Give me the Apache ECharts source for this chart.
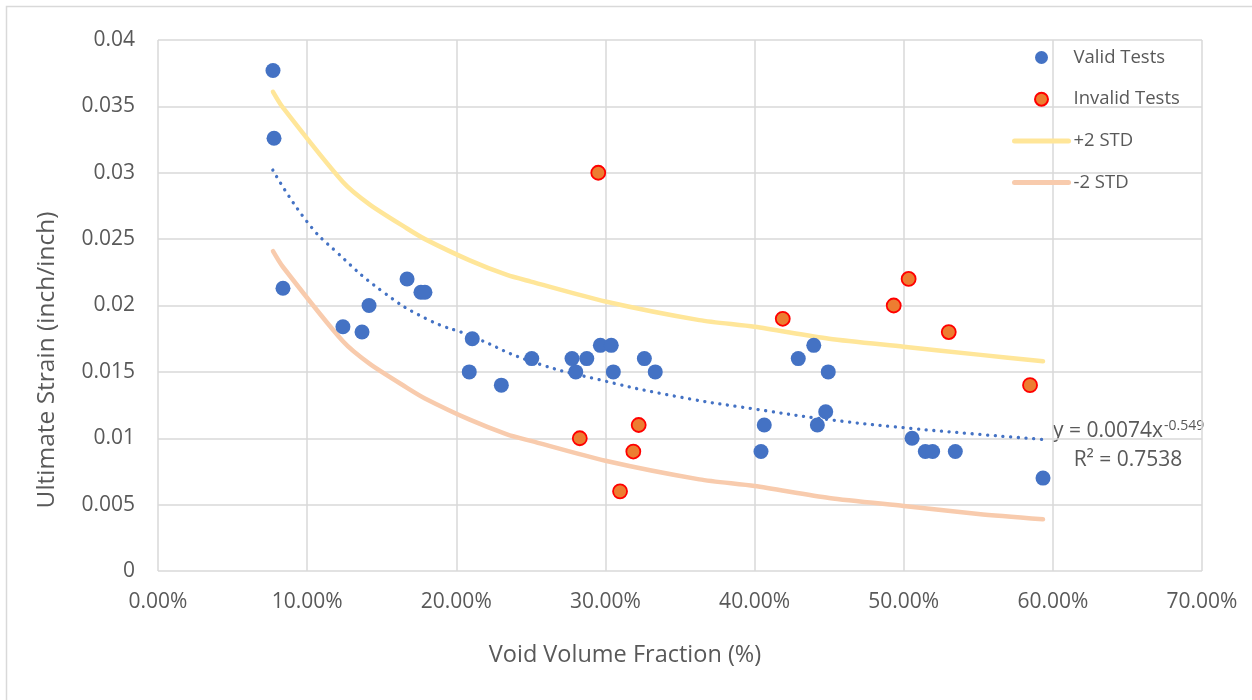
<!DOCTYPE html>
<html>
<head>
<meta charset="utf-8">
<script src="https://cdn.jsdelivr.net/npm/echarts@6/dist/echarts.min.js"></script>
<style>
html,body{margin:0;padding:0;background:#fff;}
#chart{width:1252px;height:700px;}
</style>
</head>
<body>
<div id="chart"></div>
<script>
// ---- data ----
const validX = [0.0771,0.0778,0.0838,0.1240,0.1368,0.1415,0.1670,0.1763,0.1790,0.2087,0.2107,0.2302,0.2506,0.2776,0.2801,0.2875,0.2966,0.3039,0.3053,0.3261,0.3334,0.4043,0.4065,0.4293,0.4397,0.4421,0.4477,0.4494,0.5056,0.5145,0.5194,0.5346,0.5934];
const validY = [0.0377,0.0326,0.0213,0.0184,0.0180,0.0200,0.0220,0.0210,0.0210,0.0150,0.0175,0.0140,0.0160,0.0160,0.0150,0.0160,0.0170,0.0170,0.0150,0.0160,0.0150,0.0090,0.0110,0.0160,0.0170,0.0110,0.0120,0.0150,0.0100,0.0090,0.0090,0.0090,0.0070];

const invalidX = [0.2828,0.2952,0.3098,0.3187,0.3223,0.4189,0.4933,0.5033,0.5302,0.5847];
const invalidY = [0.0100,0.0300,0.0060,0.0090,0.0110,0.0190,0.0200,0.0220,0.0180,0.0140];

const stdX = [0.0771,0.0838,0.124,0.142,0.167,0.179,0.209,0.234,0.25,0.30,0.363,0.40,0.45,0.50,0.55,0.5934];
const upperY = [0.0361,0.0349,0.0293,0.0276,0.0258,0.0250,0.0234,0.0223,0.0218,0.0203,0.0189,0.0184,0.0175,0.0169,0.0163,0.0158];
const lowerY = [0.0241,0.0229,0.0173,0.0156,0.0138,0.0130,0.0114,0.0103,0.0098,0.0083,0.0069,0.0064,0.0055,0.0049,0.0043,0.0039];

const trendX = [0.077,0.10,0.12,0.15,0.18,0.21,0.25,0.30,0.35,0.40,0.45,0.50,0.55,0.595];
const trendY = [0.0302,0.0263,0.0240,0.0211,0.0190,0.0177,0.0158,0.0143,0.0131,0.0122,0.0114,0.0108,0.0103,0.0099];

const seriesNames = ['Valid Tests','Invalid Tests','+2 STD','-2 STD'];
const xTitle = 'Void Volume Fraction (%)';
const yTitle = 'Ultimate Strain (inch/inch)';
const eqText = 'y = 0.0074x';
const eqExp = '-0.549';
const r2Text = 'R² = 0.7538';

const zip = (xs, ys) => xs.map((x, i) => [x, ys[i]]);

const FONT = 'Open Sans';
const TXT = '#595959';
const GRID = '#d9d9d9';
const YELLOW = '#FFE699';
const PEACH = '#F8CBAD';

const chart = echarts.init(document.getElementById('chart'), null, {renderer: 'canvas'});
chart.setOption({
  animation: false,
  backgroundColor: '#ffffff',
  textStyle: {fontFamily: FONT, color: TXT},
  grid: {left: 158, top: 40, right: 50, bottom: 129, containLabel: false},
  xAxis: {
    type: 'value', min: 0, max: 0.7, interval: 0.1,
    axisLine: {show: false}, axisTick: {show: false},
    splitLine: {show: true, lineStyle: {color: GRID, width: 1.5}},
    axisLabel: {color: TXT, fontFamily: FONT, fontSize: 21, margin: 21,
      formatter: v => (v * 100).toFixed(2) + '%'}
  },
  yAxis: {
    type: 'value', min: 0, max: 0.04, interval: 0.005,
    axisLine: {show: false}, axisTick: {show: false},
    splitLine: {show: true, lineStyle: {color: GRID, width: 1.5}},
    axisLabel: {color: TXT, fontFamily: FONT, fontSize: 21, margin: 23,
      formatter: v => String(parseFloat(v.toFixed(4)))}
  },
  legend: {
    orient: 'vertical', left: 1007, top: 43,
    data: [
      {name: seriesNames[0]},
      {name: seriesNames[1]},
      {name: seriesNames[2], itemStyle: {opacity: 0}, lineStyle: {color: YELLOW, width: 5}},
      {name: seriesNames[3], itemStyle: {opacity: 0}, lineStyle: {color: PEACH, width: 5}}
    ],
    itemWidth: 54, itemHeight: 13, itemGap: 22.7,
    textStyle: {color: TXT, fontFamily: FONT, fontSize: 18.5, lineHeight: 13, padding: [0,0,0,0]}
  },
  graphic: [
    {type: 'rect', silent: true, z: -10,
      shape: {x: 6.5, y: 6.5, width: 1300, height: 800},
      style: {fill: 'none', stroke: GRID, lineWidth: 1.5}},
    {type: 'text', x: 625, y: 655,
      style: {text: xTitle, fill: TXT, font: '23.5px "Open Sans"', align: 'center', verticalAlign: 'middle'}},
    {type: 'text', x: 47, y: 360, rotation: Math.PI / 2,
      style: {text: yTitle, fill: TXT, font: '24.5px "Open Sans"', align: 'center', verticalAlign: 'middle'}},
    {type: 'text', x: 1053, y: 431,
      style: {text: eqText, fill: TXT, font: '21px "Open Sans"', align: 'left', verticalAlign: 'middle'}},
    {type: 'text', x: 1164, y: 426,
      style: {text: eqExp, fill: TXT, font: '14px "Open Sans"', align: 'left', verticalAlign: 'middle'}},
    {type: 'text', x: 1128, y: 460,
      style: {text: r2Text, fill: TXT, font: '21px "Open Sans"', align: 'center', verticalAlign: 'middle'}}
  ],
  series: [
    {name: seriesNames[0], type: 'scatter', data: zip(validX, validY), symbol: 'circle', symbolSize: 15,
      itemStyle: {color: '#4472C4', opacity: 1}, z: 3},
    {name: seriesNames[1], type: 'scatter', data: zip(invalidX, invalidY), symbol: 'circle', symbolSize: 14,
      itemStyle: {color: '#ED7D31', borderColor: '#FF0000', borderWidth: 1.8, opacity: 1}, z: 3},
    {name: seriesNames[2], type: 'line', data: zip(stdX, upperY), symbol: 'none', smooth: 0.25,
      lineStyle: {color: YELLOW, width: 4.5, cap: 'round', join: 'round'}, itemStyle: {color: YELLOW}, z: 2},
    {name: seriesNames[3], type: 'line', data: zip(stdX, lowerY), symbol: 'none', smooth: 0.25,
      lineStyle: {color: PEACH, width: 4.5, cap: 'round', join: 'round'}, itemStyle: {color: PEACH}, z: 2},
    {name: 'trend', type: 'line', data: zip(trendX, trendY), symbol: 'none', smooth: true,
      lineStyle: {color: '#4472C4', width: 3.3, type: [0.1, 7.6], cap: 'round'}, z: 2}
  ]
});
</script>
</body>
</html>
